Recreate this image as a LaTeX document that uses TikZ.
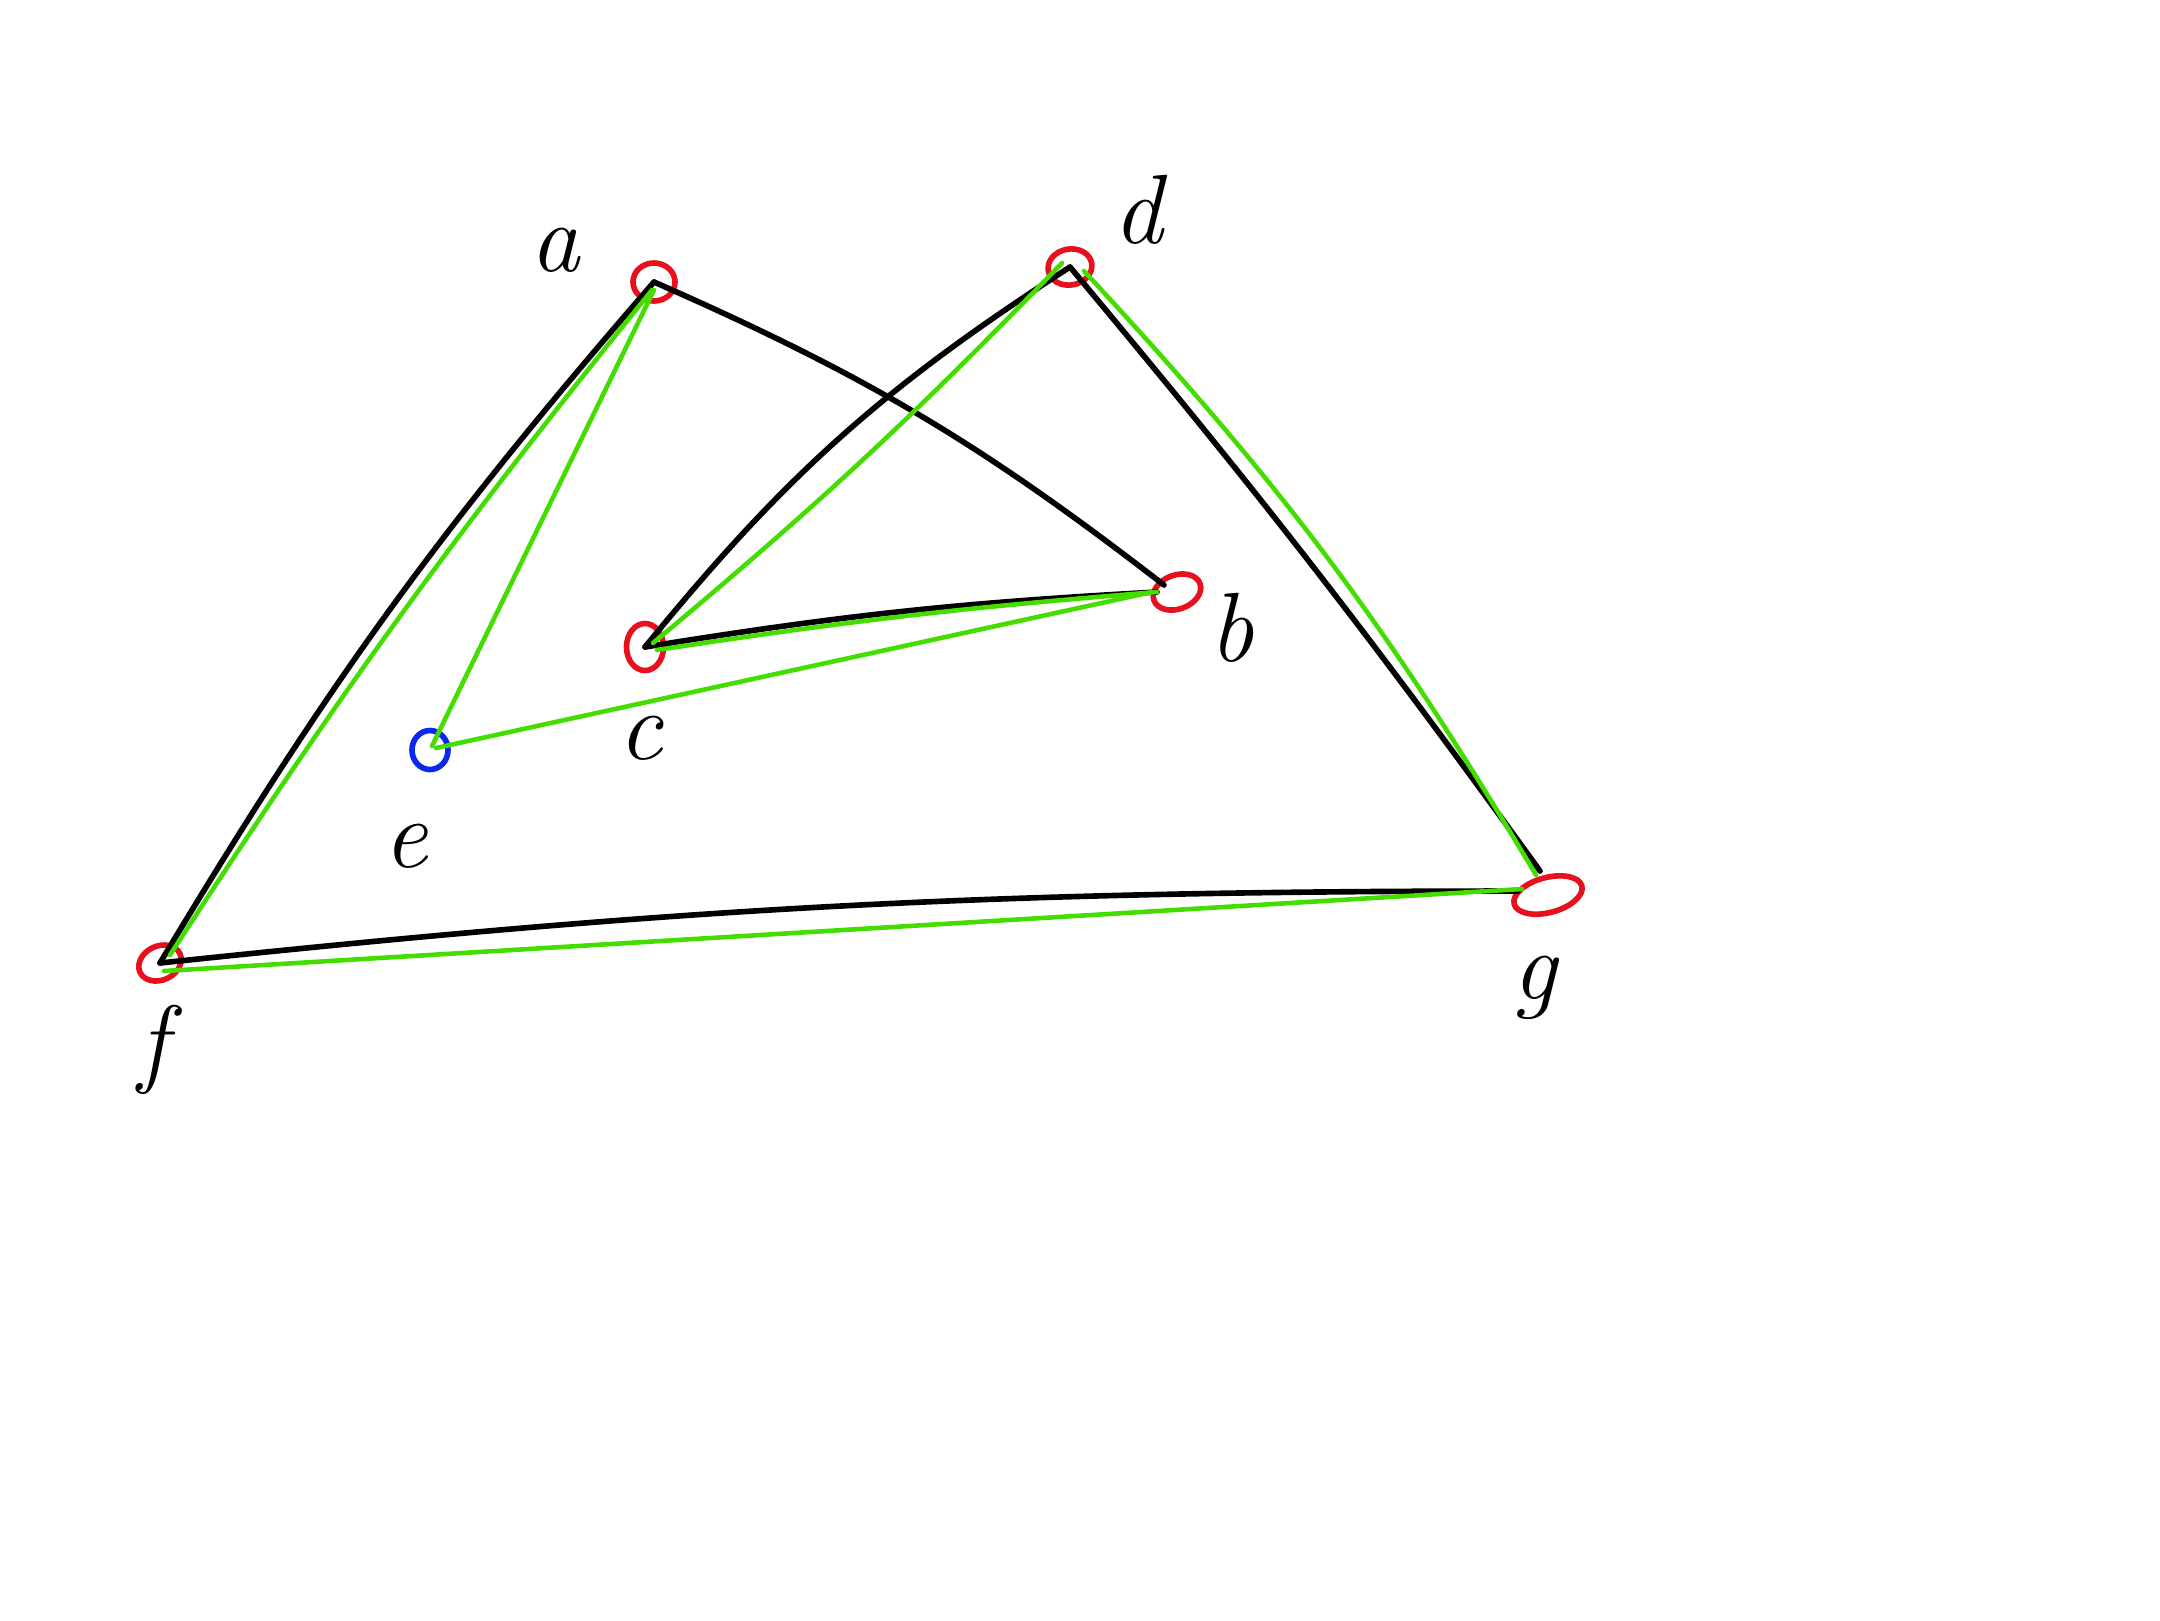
\documentclass[tikz,border=0pt]{standalone}
\usepackage{xcolor}
\usepackage{tikz}
\usetikzlibrary{shapes.geometric}
\definecolor{penred}{HTML}{E6101E}
\definecolor{pengreen}{HTML}{44DD00}
\definecolor{penblue}{HTML}{0A28F0}
\newcommand{\Hand}{\fontsize{28}{32}\selectfont\itshape}

\begin{document}
\begin{tikzpicture}[x=0.01cm,y=-0.01cm,
    edge/.style={line width=1.6pt, line cap=round, black},
    route/.style={line width=1.3pt, line cap=round, pengreen},
    vring/.style={ellipse, line width=1.6pt, inner sep=0pt}]
  \useasboundingbox (0,0) rectangle (2160,1620);
  % vertex rings
  \foreach \nm/\px/\py/\w/\h/\r/\col in {a/654/282/4.2/3.8/0/penred, d/1070/267/4.4/3.6/10/penred,
                                         b/1177/592/4.9/3.4/20/penred, c/645/647/3.7/4.7/0/penred,
                                         e/430/750/3.6/3.9/0/penblue, f/160/963/4.4/3.4/25/penred,
                                         g/1548/895/7.0/3.5/15/penred}{
    \node[vring, draw=\col, minimum width=\w mm, minimum height=\h mm, rotate=\r] (\nm) at (\px,\py) {};
  }
  % labels
  \foreach \nm/\px/\py in {a/555/250, d/1138/210, b/1232/628, c/641/738,
                           e/406/846, f/153/1050, g/1535/988}{
    \node[font=\Hand] (l\nm) at (\px,\py) {\nm};
  }
  % black edges
  \draw[edge] (a.center) to[bend right=5] (f.center);
  \draw[edge] (a.center) to[bend left=7] ([shift={(-13,-7)}]b.center);
  \draw[edge] (d.center) to[bend right=9] (c.center);
  \draw[edge] (c.center) to[bend left=3] ([shift={(-20,0)}]b.center);
  \draw[edge] (d.center) to[bend left=2] ([shift={(-8,-24)}]g.center);
  \draw[edge] (f.center) to[bend left=3] ([shift={(-30,-4)}]g.center);
  % green routes
  \draw[route] ([shift={(-2,8)}]a.center) to[bend right=3] ([shift={(10,-8)}]f.center);
  \draw[route] ([shift={(0,8)}]a.center) -- ([shift={(2,-4)}]e.center);
  \draw[route] ([shift={(6,-2)}]e.center) -- ([shift={(-25,0)}]b.center);
  \draw[route] ([shift={(12,3)}]c.center) to[bend left=2] ([shift={(-20,0)}]b.center);
  \draw[route] ([shift={(8,-4)}]c.center) to[bend right=3] ([shift={(-8,-4)}]d.center);
  \draw[route] ([shift={(14,4)}]d.center) to[bend left=6] ([shift={(-12,-20)}]g.center);
  \draw[route] ([shift={(4,8)}]f.center) -- ([shift={(-26,-6)}]g.center);
\end{tikzpicture}
\end{document}
